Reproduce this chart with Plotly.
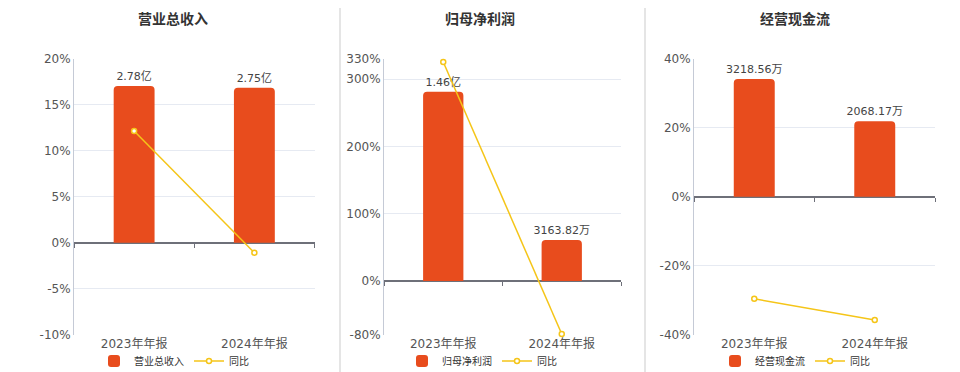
import plotly.graph_objects as go

# ---------------- data ----------------
categories = ["2023年年报", "2024年年报"]

titles = ["营业总收入", "归母净利润", "经营现金流"]

# bar values in 万元
revenue_values = [27800, 27500]
revenue_labels = ["2.78亿", "2.75亿"]
revenue_yoy = [12.17, -1.08]

profit_values = [14600, 3163.82]
profit_labels = ["1.46亿", "3163.82万"]
profit_yoy = [325.5, -79.0]

cash_values = [3218.56, 2068.17]
cash_labels = ["3218.56万", "2068.17万"]
cash_yoy = [-29.6, -35.74]

yoy_name = "同比"

# percent axis settings
pct_ranges = [[-10, 20], [-80, 330], [-40, 40]]
pct_ticks = [[-10, -5, 0, 5, 10, 15, 20], [-80, 0, 100, 200, 300, 330], [-40, -20, 0, 20, 40]]
bar_axis_max = [32610, 17136, 3768.7]

# ---------------- style ----------------
BAR_COLOR = "#E84C1D"
LINE_COLOR = "#F5C518"
AXIS_COLOR = "#6E7079"
W, H = 960, 372
x_domains = [[74 / W, 314.5 / W], [384 / W, 621 / W], [694 / W, 935 / W]]
y_domain = [1 - 334.7 / H, 1 - 59 / H]
title_x = [173, 480, 795]
legend_x = [174, 482, 795]
FONT = "DejaVu Sans, Noto Sans CJK SC, sans-serif"

fig = go.Figure()

panels = [
    (titles[0], revenue_values, revenue_labels, revenue_yoy),
    (titles[1], profit_values, profit_labels, profit_yoy),
    (titles[2], cash_values, cash_labels, cash_yoy),
]

layout = {}
annotations = []
for i, (name, vals, labels, yoy) in enumerate(panels):
    n = i + 1
    xa = "x" if n == 1 else f"x{n}"
    xt_id = n + 3
    xt = f"x{xt_id}"
    yb_id = 2 * n - 1
    yl_id = 2 * n
    yb = "y" if yb_id == 1 else f"y{yb_id}"
    yl = f"y{yl_id}"
    leg = "legend" if n == 1 else f"legend{n}"

    fig.add_trace(go.Bar(
        x=categories, y=vals, name=name, xaxis=xa, yaxis=yb,
        marker=dict(color=BAR_COLOR, cornerradius=4, line=dict(width=0)),
        width=0.34,
        text=labels, textposition="outside", cliponaxis=False,
        constraintext="none",
        textfont=dict(size=11, color="#444", family=FONT),
        legend=leg, hoverinfo="skip",
    ))
    fig.add_trace(go.Scatter(
        x=categories, y=yoy, name=yoy_name, xaxis=xa, yaxis=yl,
        mode="lines+markers",
        line=dict(color=LINE_COLOR, width=1.5),
        marker=dict(symbol="circle", size=5, color="white",
                    line=dict(color=LINE_COLOR, width=1.5)),
        legend=leg, hoverinfo="skip", cliponaxis=False,
    ))
    # empty trace to carry the zero-line tick axis
    fig.add_trace(go.Scatter(x=[], y=[], xaxis=xt, yaxis=yl,
                             showlegend=False, hoverinfo="skip"))

    pmin, pmax = pct_ranges[i]
    bmax = bar_axis_max[i]
    bmin = bmax * pmin / pmax
    zero_frac = y_domain[0] + (0 - pmin) / (pmax - pmin) * (y_domain[1] - y_domain[0])

    layout["xaxis" if n == 1 else f"xaxis{n}"] = dict(
        domain=x_domains[i], anchor=yb, type="category",
        range=[-0.5, 1.5], showgrid=False, showline=False, ticks="",
        tickfont=dict(size=12, color="#555", family=FONT),
        fixedrange=True,
    )
    layout[f"xaxis{xt_id}"] = dict(
        overlaying=xa, anchor="free", position=zero_frac, type="linear",
        range=[-0.5, 1.5], tickvals=[-0.5, 0.5, 1.5],
        ticks="outside", ticklen=4, tickcolor=AXIS_COLOR, tickwidth=1,
        showticklabels=False, showgrid=False, zeroline=False,
        showline=False, fixedrange=True,
    )
    layout["yaxis" if yb_id == 1 else f"yaxis{yb_id}"] = dict(
        domain=y_domain, anchor=xa, range=[bmin, bmax],
        showgrid=False, zeroline=False, showticklabels=False, showline=False,
        fixedrange=True,
    )
    layout[f"yaxis{yl_id}"] = dict(
        overlaying=yb, anchor=xa, side="left", range=[pmin, pmax],
        tickvals=pct_ticks[i], ticktext=[f"{v}%" for v in pct_ticks[i]],
        showgrid=True, gridcolor="#E6EAF2", gridwidth=1,
        zeroline=True, zerolinecolor=AXIS_COLOR, zerolinewidth=1.5,
        showline=True, linecolor="#C5CAD6", linewidth=1,
        ticks="", tickfont=dict(size=12, color="#555", family=FONT),
        fixedrange=True,
    )
    layout[leg] = dict(
        orientation="h", x=legend_x[i] / W, xanchor="center",
        y=1 - 361 / H, yanchor="middle",
        font=dict(size=10, color="#333", family=FONT),
        bgcolor="rgba(0,0,0,0)", itemwidth=30, tracegroupgap=0,
    )
    annotations.append(dict(
        text=f"<b>{name}</b>", x=title_x[i] / W, y=1 - 18 / H,
        xref="paper", yref="paper", showarrow=False,
        xanchor="center", yanchor="middle",
        font=dict(size=14, color="#333", family="Noto Sans CJK SC, sans-serif"),
    ))

shapes = [
    dict(type="line", xref="paper", yref="paper",
         x0=340 / W, x1=340 / W, y0=0, y1=1 - 8 / H,
         line=dict(color="#DDDDDD", width=1.5)),
    dict(type="line", xref="paper", yref="paper",
         x0=645 / W, x1=645 / W, y0=0, y1=1 - 8 / H,
         line=dict(color="#DDDDDD", width=1.5)),
]

fig.update_layout(
    width=W, height=H,
    margin=dict(l=0, r=0, t=0, b=0, pad=0, autoexpand=False),
    paper_bgcolor="white", plot_bgcolor="white",
    annotations=annotations, shapes=shapes,
    barmode="overlay", showlegend=True,
    font=dict(family=FONT),
    **layout,
)

fig.write_html(
    "out.html",
    config={"displayModeBar": False},
    post_script="document.body.style.margin='0';document.body.style.overflow='hidden';",
)
